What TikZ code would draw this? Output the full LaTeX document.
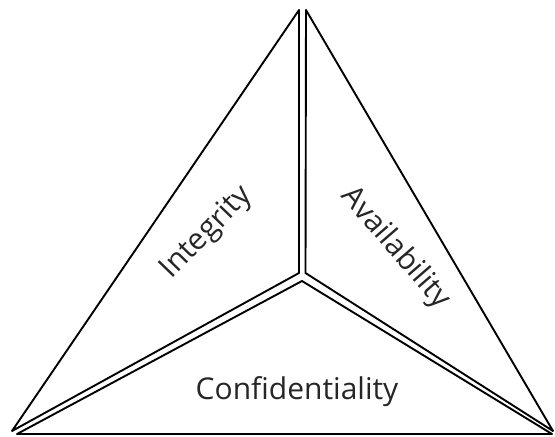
\documentclass[tikz,border=0pt]{standalone}
\usepackage{fontspec}
\setmainfont{Open Sans}
\tikzset{
  facet/.style={draw=black,line width=1.9pt,line join=round},
  facetlabel/.style={font=\fontsize{30}{34}\selectfont,text=black!85,inner sep=0pt},
}
\begin{document}
\begin{tikzpicture}[x=1pt,y=-1pt]
  \useasboundingbox (0,0) rectangle (555,437);
  % three facets, drawn apart so that the shared edges look doubled
  \coordinate (intTop) at (299,10);
  \coordinate (intMid) at (299,273);
  \coordinate (intBase) at (12,431);
  \coordinate (avaTop) at (306,10);
  \coordinate (avaMid) at (305.5,273);
  \coordinate (avaBase) at (553,431);
  \coordinate (conMid) at (302,281);
  \coordinate (conLeft) at (17,434);
  \coordinate (conRight) at (552,434);
  \draw[facet] (intTop) -- (intMid) -- (intBase) -- cycle;
  \draw[facet] (avaTop) -- (avaMid) -- (avaBase) -- cycle;
  \draw[facet] (conMid) -- (conLeft) -- (conRight) -- cycle;
  \draw[facet,line width=2.6pt] (conLeft) -- (conRight);
  % labels
  \node[facetlabel,rotate=46] (integrity) at (207,233) {Integrity};
  \node[facetlabel,rotate=-49] (availability) at (395,248) {Availability};
  \node[facetlabel] (confidentiality) at (297,392) {Confidentiality};
\end{tikzpicture}
\end{document}
